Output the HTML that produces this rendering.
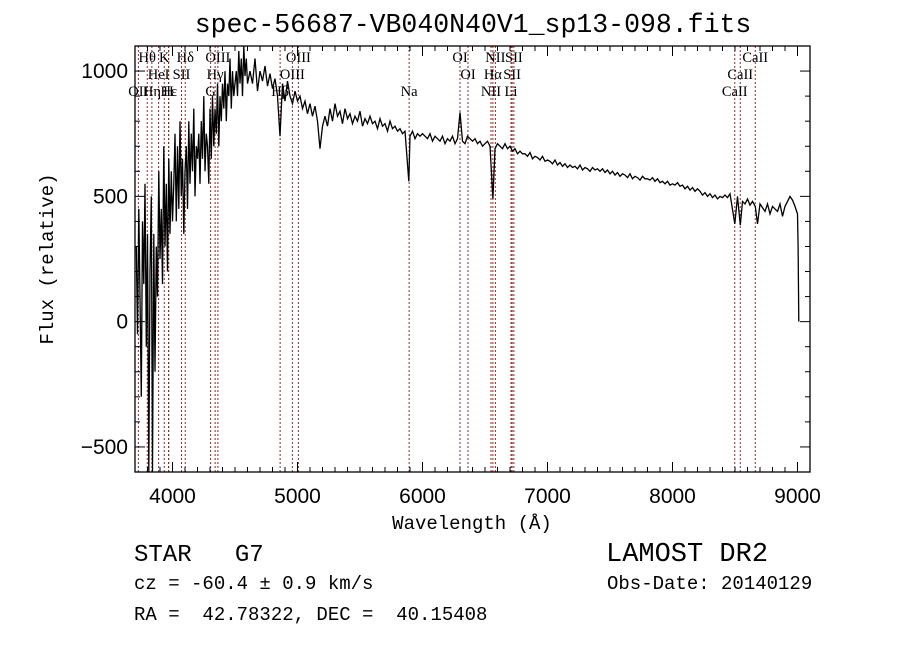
<!DOCTYPE html>
<html><head><meta charset="utf-8"><style>
html,body{margin:0;padding:0;background:#fff;}
svg{display:block;}
text{fill:#000;}
</style></head><body>
<svg id="chart" width="900" height="649" viewBox="0 0 900 649" xmlns="http://www.w3.org/2000/svg">
<rect x="0" y="0" width="900" height="649" fill="#fff"/>
<text x="473" y="32" text-anchor="middle" font-family="Liberation Mono, monospace" font-size="26.5">spec-56687-VB040N40V1_sp13-098.fits</text>
<g id="lines"></g>
<g id="labels"></g>
<path id="spec" fill="none" stroke="#000" stroke-width="1.3" stroke-linejoin="miter"></path>
<g id="axes"></g>
<text x="472" y="529" text-anchor="middle" font-family="Liberation Mono, monospace" font-size="19">Wavelength (Å)</text>
<text transform="translate(53,259) rotate(-90)" text-anchor="middle" font-family="Liberation Mono, monospace" font-size="19">Flux (relative)</text>
<text x="134" y="561" font-family="Liberation Mono, monospace" font-size="24" xml:space="preserve">STAR   G7</text>
<text x="606" y="561" font-family="Liberation Mono, monospace" font-size="27">LAMOST DR2</text>
<text x="134" y="589" font-family="Liberation Mono, monospace" font-size="19">cz = -60.4 ± 0.9 km/s</text>
<text x="607" y="589" font-family="Liberation Mono, monospace" font-size="19">Obs-Date: 20140129</text>
<text x="134" y="620" font-family="Liberation Mono, monospace" font-size="19" xml:space="preserve">RA =  42.78322, DEC =  40.15408</text>
</svg>
<script>
const wave = [3710,3720,3730,3740,3750,3760,3770,3780,3790,3800,3810,3820,3830,3840,3850,3860,3870,3880,3890,3900,
3910,3920,3930,3940,3950,3960,3970,3980,3990,4000,
4010,4020,4030,4040,4050,4060,4070,4080,4090,4100,
4110,4120,4130,4140,4150,4160,4170,4180,4190,4200,
4210,4220,4230,4240,4250,4260,4270,4280,4290,4300,
4310,4320,4330,4340,4350,4360,4370,4380,4390,4400,
4410,4420,4430,4440,4450,4460,4470,4480,4490,4500,
4510,4520,4530,4540,4550,4560,4570,4580,4590,4600,
4620,4640,4660,4680,4700,4720,4740,4760,4780,4800,
4820,4840,4860,4880,4900,4920,4940,4960,4980,5000,
5020,5040,5060,5080,5100,5120,5140,5160,5180,5200,
5220,5240,5260,5280,5300,5320,5340,5360,5380,5400,
5420,5440,5460,5480,5500,5520,5540,5560,5580,5600,
5620,5640,5660,5680,5700,5720,5740,5760,5780,5800,
5820,5840,5860,5890,5900,5920,5940,5960,5980,6000,
6020,6040,6060,6080,6100,6120,6140,6160,6180,6200,
6220,6240,6260,6280,6300,6320,6340,6360,6380,6400,
6420,6440,6460,6480,6500,6520,6540,6563,6580,6600,
6620,6640,6660,6680,6700,6720,6740,6760,6780,6800,
6820,6840,6860,6880,6900,6920,6940,6960,6980,7000,
7020,7040,7060,7080,7100,7120,7140,7160,7180,7200,
7220,7240,7260,7280,7300,7320,7340,7360,7380,7400,
7420,7440,7460,7480,7500,7520,7540,7560,7580,7600,
7620,7640,7660,7680,7700,7720,7740,7760,7780,7800,
7820,7840,7860,7880,7900,7920,7940,7960,7980,8000,
8020,8040,8060,8080,8100,8120,8140,8160,8180,8200,
8220,8240,8260,8280,8300,8320,8340,8360,8380,8400,
8420,8440,8460,8498,8520,8542,8560,8580,8600,8620,
8640,8662,8680,8700,8720,8740,8760,8780,8800,8820,
8840,8860,8880,8900,8920,8940,8960,8980,9000,9005,9010];
const flux = [300,-50,450,100,-300,400,150,550,-100,350,-600,200,500,-600,350,-200,300,100,600,250,
450,150,700,300,550,200,650,350,600,400,
550,750,400,700,450,800,500,650,350,600,
700,450,800,550,750,600,850,500,700,650,
750,550,800,650,900,600,750,700,550,850,
650,900,700,850,750,950,700,900,800,950,
850,1000,800,950,900,1050,850,1000,900,950,
1000,900,1080,950,1050,900,1100,980,1050,950,
1000,950,1050,920,1000,960,1020,940,990,930,
970,900,740,950,880,960,900,870,920,880,
900,850,880,830,870,820,860,800,690,780,
820,780,850,800,870,820,840,790,850,810,
830,790,820,800,840,780,810,790,820,790,
800,770,810,780,790,760,800,770,780,760,
770,750,760,560,740,760,730,750,740,750,
740,730,750,720,740,730,720,740,710,730,
720,740,710,730,835,720,710,740,730,720,
730,710,720,700,710,720,700,490,690,710,
700,690,710,690,700,680,690,670,680,670,
670,660,675,650,660,655,645,660,640,645,
640,630,645,625,635,620,630,615,625,615,
620,610,625,605,615,610,600,615,605,610,
600,610,595,605,590,600,585,595,580,590,
585,575,590,570,580,575,565,580,570,570,
565,575,560,570,555,560,550,560,545,550,
545,555,540,545,530,540,525,535,520,530,
520,505,515,500,510,495,505,490,500,495,
505,495,510,390,500,385,480,470,490,465,
480,460,390,470,455,440,470,430,460,450,
440,470,420,460,480,500,485,460,430,300,0];
const lineWaves = [3727,3798,3835,3889,3934,3968,3970,4072,4102,4305,4341,4363,4861,4959,5007,5893,6300,6364,6548,6563,6583,6708,6717,6731,8498,8542,8662];
const labelText = ["OII","Hθ","Hη","HeI","K","H","Hε","SII","Hδ","G","Hγ","OIII","Hβ","OIII","OIII","Na","OI","OI","NII","Hα","NII","Li","SII","SII","CaII","CaII","CaII"];
const labelRow = [2,0,2,1,0,2,2,1,0,2,1,0,2,1,0,2,0,1,2,1,0,2,1,0,2,1,0];
const xTicks = [4000,5000,6000,7000,8000,9000];
const yTicks = [-500,0,500,1000];

const X0=135,X1=810,Y0=46,Y1=472;
const xmin=3700,xmax=9100,ymin=-600,ymax=1100;
const xs=w=>X0+(w-xmin)/(xmax-xmin)*(X1-X0);
const ys=f=>{const v=Y1-(f-ymin)/(ymax-ymin)*(Y1-Y0);return Math.max(Y0,Math.min(Y1,v));};
const NS="http://www.w3.org/2000/svg";
function mk(tag,attrs,parent){const e=document.createElementNS(NS,tag);for(const k in attrs)e.setAttribute(k,attrs[k]);parent.appendChild(e);return e;}

let d="";
for(let i=0;i<wave.length;i++){d+=(i?"L":"M")+xs(wave[i]).toFixed(1)+","+ys(flux[i]).toFixed(1);}
document.getElementById("spec").setAttribute("d",d);

const lg=document.getElementById("lines"), lb=document.getElementById("labels");
for(let i=0;i<lineWaves.length;i++){
  const x=xs(lineWaves[i]);
  const l=mk("line",{x1:x,x2:x,y1:Y0,y2:Y1,stroke:"#8b2a2a","stroke-width":1,"stroke-dasharray":"2,2"},lg);
  
  
  const t=mk("text",{x:x,y:62+labelRow[i]*17,"text-anchor":"middle","font-family":"Liberation Serif, serif","font-size":14.5},lb);
  t.textContent=labelText[i];
  
  
}

const ax=document.getElementById("axes");
const fr=mk("rect",{x:X0,y:Y0,width:X1-X0,height:Y1-Y0,fill:"none",stroke:"#000","stroke-width":1.3},ax);


for(let w=3700;w<=9100;w+=100){
  const x=xs(w), major=(w%1000===0), L=major?10:5;
  mk("line",{x1:x,x2:x,y1:Y1,y2:Y1-L,stroke:"#000","stroke-width":1},ax);
  mk("line",{x1:x,x2:x,y1:Y0,y2:Y0+L,stroke:"#000","stroke-width":1},ax);
}
for(const w of xTicks){
  const t=mk("text",{x:xs(w),y:503,"text-anchor":"middle","font-family":"Liberation Sans, sans-serif","font-size":21},ax);
  t.textContent=w;
  
  
}
for(let f=-600;f<=1100;f+=100){
  const y=ys(f), major=(f%500===0), L=major?10:5;
  mk("line",{x1:X0,x2:X0+L,y1:y,y2:y,stroke:"#000","stroke-width":1},ax);
  mk("line",{x1:X1,x2:X1-L,y1:y,y2:y,stroke:"#000","stroke-width":1},ax);
}
for(const f of yTicks){
  const t=mk("text",{x:128,y:ys(f)+7,"text-anchor":"end","font-family":"Liberation Sans, sans-serif","font-size":21},ax);
  t.textContent=(f<0?"\u2212"+(-f):f);
  
  
}
</script>
</body></html>
